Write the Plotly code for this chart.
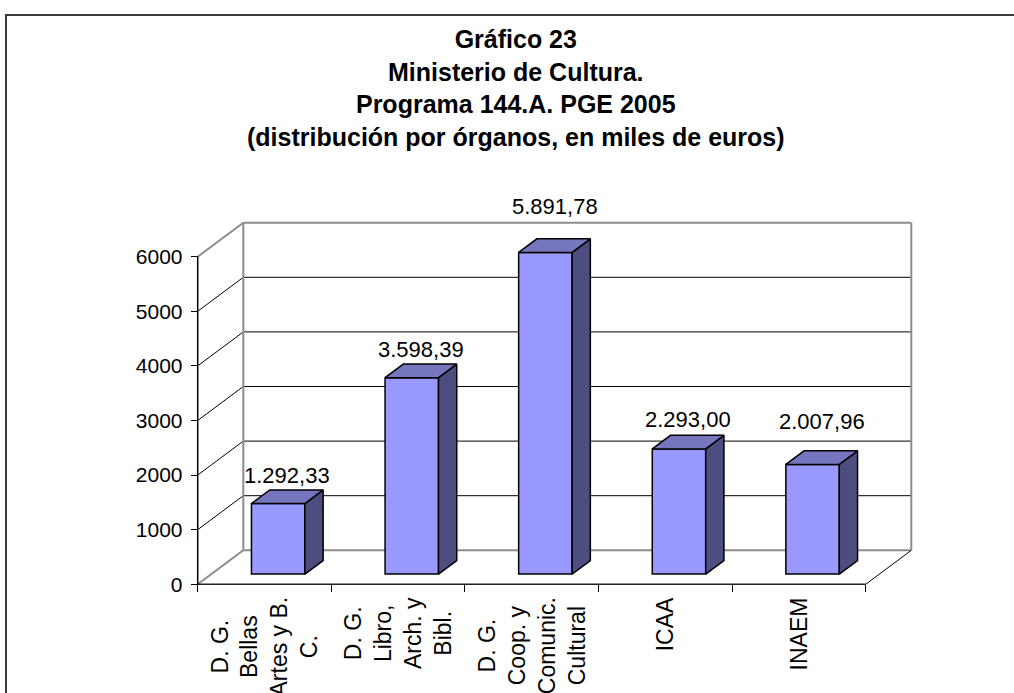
import plotly.graph_objects as go

# ---------------- data ----------------
categories = ["D. G.<br>Bellas<br>Artes y B.<br>C.",
              "D. G.<br>Libro,<br>Arch. y<br>Bibl.",
              "D. G.<br>Coop. y<br>Comunic.<br>Cultural",
              "ICAA",
              "INAEM"]
values = [1292.33, 3598.39, 5891.78, 2293.00, 2007.96]
y_ticks = [0, 1000, 2000, 3000, 4000, 5000, 6000]
title_lines = ["Gráfico 23", "Ministerio de Cultura.", "Programa 144.A. PGE 2005",
               "(distribución por órganos, en miles de euros)"]

# label placement (style: extra lift of each value label above its bar, px)
label_lift = [0, 0, 18, 1, 15]

# ---------------- geometry (pixels) ----------------
W, H = 1014, 693
X0, Y0 = 197.7, 584.3          # pixel of (x=0, y=0) on front plane
SX = 133.6                      # px per category
SY = 0.0546                     # px per value unit
DX = 45.6 / SX                  # depth offset in category units
DY = 34.0 / SY                  # depth offset in value units
PL, PR, PT, PB = 150, 1000, 190, 610   # plot area in px

FONT = "Liberation Sans, Arial, sans-serif"
n = len(values)
ymax = y_ticks[-1]

def fmt(v):
    s = f"{v:,.2f}"
    return s.replace(",", "X").replace(".", ",").replace("X", ".")

fig = go.Figure()

# front faces of bars
bw = 0.4
d0, d1 = 0.3, 0.7
fig.add_trace(go.Bar(
    x=[i + 0.5 + d0 * DX for i in range(n)], y=values, base=d0 * DY, width=bw,
    marker=dict(color="#9999FF", line=dict(color="black", width=1.5)),
    hoverinfo="skip", showlegend=False))

# side faces and top faces
for i, v in enumerate(values):
    xl = i + 0.5 + d0 * DX - bw / 2
    xr = xl + bw
    b = d0 * DY
    ddx, ddy = (d1 - d0) * DX, (d1 - d0) * DY
    fig.add_trace(go.Scatter(
        x=[xr, xr + ddx, xr + ddx, xr, xr], y=[b, b + ddy, b + ddy + v, b + v, b],
        mode="lines", fill="toself", fillcolor="#4D4D80",
        line=dict(color="black", width=1.5), hoverinfo="skip", showlegend=False))
    fig.add_trace(go.Scatter(
        x=[xl, xr, xr + ddx, xl + ddx, xl], y=[b + v, b + v, b + v + ddy, b + v + ddy, b + v],
        mode="lines", fill="toself", fillcolor="#7676BE",
        line=dict(color="black", width=1.5), hoverinfo="skip", showlegend=False))

shapes = []
def seg(x0, y0, x1, y1, color, width, layer="below"):
    shapes.append(dict(type="line", xref="x", yref="y", x0=x0, y0=y0, x1=x1, y1=y1,
                       line=dict(color=color, width=width), layer=layer))

GRAY = "#8C8C8C"
# gridlines (side wall diagonals + back wall horizontals)
for t in y_ticks[1:-1]:
    seg(0, t, DX, t + DY, "black", 1)
    seg(DX, t + DY, n + DX, t + DY, "black", 1)
# back wall frame
seg(DX, DY, n + DX, DY, GRAY, 2)
seg(DX, ymax + DY, n + DX, ymax + DY, GRAY, 2)
seg(DX, DY, DX, ymax + DY, GRAY, 2)
seg(n + DX, DY, n + DX, ymax + DY, GRAY, 2)
# side wall / floor diagonals
seg(0, ymax, DX, ymax + DY, GRAY, 2)
seg(0, 0, DX, DY, GRAY, 2)
seg(n, 0, n + DX, DY, "black", 1)
# front axes
seg(0, 0, 0, ymax, "black", 1.5)
seg(0, 0, n, 0, "#222222", 1.5)

# outer border
shapes.append(dict(type="path", xref="paper", yref="paper",
                   path=f"M {6/W},{-0.05} L {6/W},{1-15/H} L {1.05},{1-15/H}",
                   line=dict(color="#3A3A3A", width=2), layer="above"))

annotations = []
# data labels
for i, v in enumerate(values):
    annotations.append(dict(x=i + 0.5 + 0.5 * DX, y=v + d1 * DY, xref="x", yref="y",
                            text=fmt(v), showarrow=False, xanchor="center", yanchor="bottom",
                            yshift=label_lift[i],
                            font=dict(family=FONT, size=22, color="black")))
# category labels
for i, c in enumerate(categories):
    annotations.append(dict(x=i + 0.5, y=1 - 595 / H, xref="x", yref="paper",
                            text=c, showarrow=False, textangle=-90, align="center",
                            xanchor="center", yanchor="top",
                            font=dict(family=FONT, size=23, color="black")))
# title
annotations.append(dict(x=515.5 / W, y=1 - 23 / H, xref="paper", yref="paper",
                        text="<b>" + "<br>".join(title_lines) + "</b>", showarrow=False,
                        xanchor="center", yanchor="top", align="center",
                        font=dict(family=FONT, size=25, color="black")))

fig.update_layout(
    width=W, height=H, autosize=False,
    margin=dict(l=0, r=0, t=0, b=0, pad=0),
    paper_bgcolor="white", plot_bgcolor="white",
    showlegend=False, bargap=0,
    xaxis=dict(domain=[PL / W, PR / W], range=[(PL - X0) / SX, (PR - X0) / SX],
               anchor="free", position=1 - Y0 / H,
               tickvals=list(range(n + 1)), ticks="outside", ticklen=7, tickcolor="black",
               tickwidth=1, showticklabels=False, showgrid=False, zeroline=False,
               showline=False, fixedrange=True),
    yaxis=dict(domain=[1 - PB / H, 1 - PT / H], range=[(Y0 - PB) / SY, (Y0 - PT) / SY],
               anchor="free", position=X0 / W,
               tickvals=y_ticks, ticktext=[str(t) for t in y_ticks],
               ticks="outside", ticklen=7, tickcolor="black", tickwidth=1,
               ticklabelstandoff=4,
               tickfont=dict(family=FONT, size=21, color="black"),
               showgrid=False, zeroline=False, showline=False, fixedrange=True),
    shapes=shapes, annotations=annotations,
)

fig.write_html("out.html", config={"displayModeBar": False, "staticPlot": True},
               post_script="document.body.style.margin='0';")
